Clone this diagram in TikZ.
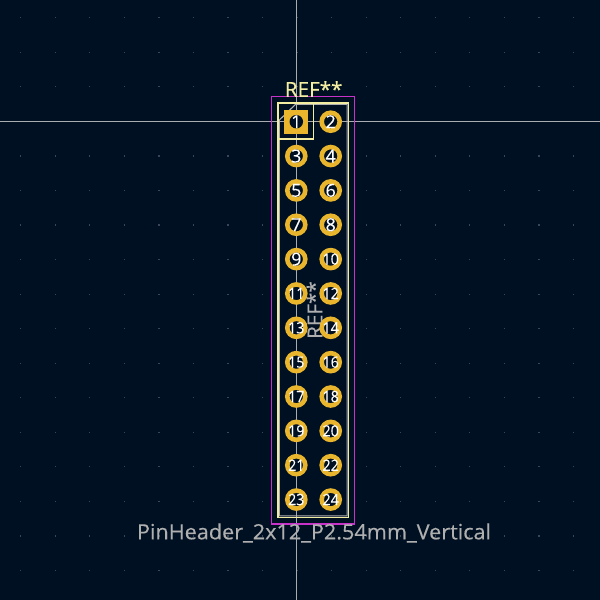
\documentclass[tikz,border=0pt]{standalone}
\usepackage{fontspec}
\setmainfont{Open Sans}
\newfontfamily\heavyf[FakeBold=0.35]{Open Sans}
\newfontfamily\numf[FakeBold=0.15]{Open Sans}
\definecolor{bgc}{HTML}{001023}
\definecolor{gridc}{HTML}{3A4656}
\definecolor{crossc}{HTML}{A8ACB0}
\definecolor{silk}{HTML}{F2EDA1}
\definecolor{fabc}{HTML}{AFAFAF}
\definecolor{court}{HTML}{C832C8}
\definecolor{padc}{HTML}{E8B52C}
\tikzset{
  padhole/.style={circle,draw=padc,line width=4.6pt,fill=bgc,minimum size=18pt,inner sep=0pt},
  padsq/.style={rectangle,fill=padc,minimum size=24pt,inner sep=0pt},
  padin/.style={circle,fill=bgc,minimum size=13.5pt,inner sep=0pt},
  numa/.style={text=white,font=\numf\fontsize{18}{18}\selectfont,inner sep=0pt},
  numb/.style={text=white,font=\numf\fontsize{15.5}{15.5}\selectfont,inner sep=0pt,xscale=0.92},
}
\begin{document}
\begin{tikzpicture}[x=1pt,y=-1pt]
\path[use as bounding box,fill=bgc] (0,0) rectangle (600,600);
\foreach \i in {0,...,17}{\foreach \j in {0,...,17}{
  \fill[gridc] ({20.7+34.55*\i-0.6},{17.7+34.55*\j-0.6}) rectangle +(1.2,1.2);
}}
\draw[crossc,line width=0.8pt] (296.3,0) -- (296.3,600);
\draw[crossc,line width=0.8pt] (0,121.7) -- (600,121.7);
\draw[court,line width=1.1pt] (271.7,96.9) rectangle (354.8,524);
\draw[fabc,line width=1.1pt] (279.4,120) -- (295.7,104.2) -- (347.1,104.2) -- (347.1,515.9) -- (279.4,515.9) -- cycle;
\draw[silk,line width=1.6pt] (313.4,103) -- (348.6,103) -- (348.6,517.4) -- (278,517.4) -- (278,138.7) -- (313.4,138.7) -- cycle;
\draw[silk,line width=1.6pt] (278,138.7) -- (278,103) -- (313.4,103);
\node[text=fabc,font=\heavyf\fontsize{20.6}{20.6}\selectfont,rotate=90,inner sep=0pt] (ref2) at (314.5,310) {REF**};
\foreach \k in {0,...,11}{
  \pgfmathsetmacro{\yy}{121.7+34.35*\k}
  \pgfmathtruncatemacro{\na}{2*\k+1}
  \pgfmathtruncatemacro{\nb}{2*\k+2}
  \ifnum\k=0 \node[padsq] (p\na) at (296.3,\yy) {}; \node[padin] (h\na) at (296.3,\yy) {};
  \else \node[padhole] (p\na) at (296.3,\yy) {};\fi
  \node[padhole] (p\nb) at (330.7,\yy) {};
}
\foreach \k in {0,...,11}{
  \pgfmathsetmacro{\yy}{121.7+34.35*\k}
  \pgfmathtruncatemacro{\na}{2*\k+1}
  \pgfmathtruncatemacro{\nb}{2*\k+2}
  \ifnum\na<10 \node[numa] (n\na) at (296.3,\yy) {\na}; \else \node[numb] (n\na) at (296.3,\yy) {\na}; \fi
  \ifnum\nb<10 \node[numa] (n\nb) at (330.7,\yy) {\nb}; \else \node[numb] (n\nb) at (330.7,\yy) {\nb}; \fi
}
\node[text=silk,font=\heavyf\fontsize{20.6}{20.6}\selectfont,inner sep=0pt,anchor=base] (ref) at (313.7,96.8) {REF**};
\node[text=fabc,font=\heavyf\fontsize{21}{21}\selectfont,inner sep=0pt,anchor=base,xscale=1.03] (val) at (314,539.3) {PinHeader\_2x12\_P2.54mm\_Vertical};
\end{tikzpicture}
\end{document}
